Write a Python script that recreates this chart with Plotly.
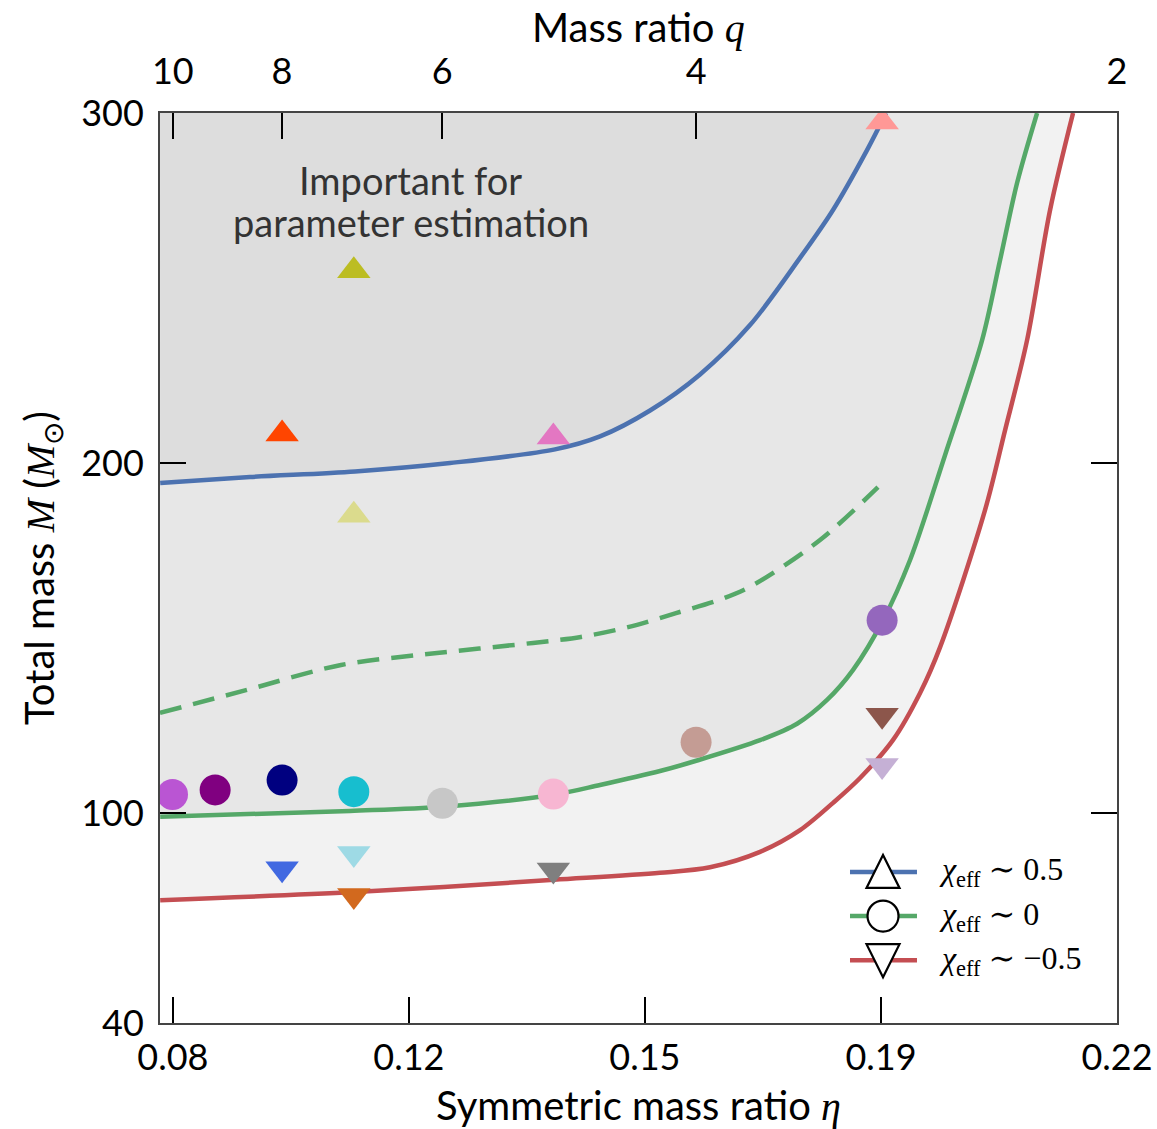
import plotly.graph_objects as go

# ---------------- data ----------------
# curves: symmetric mass ratio eta vs total mass M
blue_eta = [0.08078, 0.09406, 0.10958, 0.12363, 0.13915, 0.14580, 0.15319, 0.16058, 0.16797, 0.17536, 0.18024, 0.18527, 0.18808]
blue_M   = [194.3, 196.0, 197.6, 200.0, 203.9, 207.6, 215.0, 225.3, 239.4, 258.6, 272.3, 289.4, 300.0]

green_eta = [0.08078, 0.10884, 0.12259, 0.13900, 0.14580, 0.15467, 0.16014, 0.16946, 0.17493, 0.17936, 0.18321, 0.18764, 0.19163, 0.19681, 0.20228, 0.20494, 0.20745, 0.21041]
green_M   = [98.9, 100.6, 101.8, 105.2, 108.0, 112.0, 115.0, 120.8, 125.5, 132.3, 140.9, 155.1, 172.3, 202.3, 235.1, 258.0, 280.0, 300.0]

red_eta = [0.08078, 0.10958, 0.13900, 0.15467, 0.16206, 0.16946, 0.17537, 0.18025, 0.18424, 0.18912, 0.19311, 0.19607, 0.20272, 0.20568, 0.20893, 0.21233, 0.21573]
red_M   = [75.1, 77.4, 80.9, 82.9, 84.5, 88.9, 95.1, 102.9, 110.0, 120.9, 134.3, 147.4, 186.6, 209.4, 235.1, 272.3, 300.0]

dash_eta = [0.08075, 0.09346, 0.10751, 0.12170, 0.13589, 0.14298, 0.14993, 0.15703, 0.16413, 0.16841, 0.17832, 0.18689]
dash_M   = [128.6, 135.1, 142.3, 145.7, 148.6, 150.3, 153.1, 157.1, 161.4, 165.1, 178.0, 193.1]

# events
up_eta    = [0.1875, 0.1094, 0.0988, 0.1389, 0.1094]
up_M      = [297.4, 254.9, 208.3, 207.4, 185.1]
up_colors = ["#ff9896", "#bcbd22", "#ff4500", "#e377c2", "#dbdb8d"]

circ_eta    = [0.0826, 0.0889, 0.0988, 0.1094, 0.1225, 0.1389, 0.1600, 0.1875]
circ_M      = [105.3, 106.6, 109.4, 106.1, 102.8, 105.4, 120.2, 155.1]
circ_colors = ["#ba55d3", "#800080", "#000080", "#17becf", "#c7c7c7", "#f7b6d2", "#c49c94", "#9467bd"]

down_eta    = [0.0988, 0.1094, 0.1094, 0.1389, 0.1875, 0.1875]
down_M      = [84.1, 88.4, 76.4, 83.7, 127.9, 113.6]
down_colors = ["#4169e1", "#9edae5", "#d2691e", "#7f7f7f", "#8c564b", "#c5b0d5"]

# legend
legend_labels = ["<i>χ</i><sub>eff</sub> ∼ 0.5", "<i>χ</i><sub>eff</sub> ∼ 0", "<i>χ</i><sub>eff</sub> ∼ −0.5"]

# axes
q_ticks = [10, 8, 6, 4, 2]
eta_ticktext = ["0.08", "0.12", "0.15", "0.19", "0.22"]
M_ticks = [40, 100, 200, 300]
X_MIN, X_MAX = 0.08075, 2 / 9
Y_MIN, Y_MAX = 40, 300

BLUE, GREEN, RED = "#4c72b0", "#55a868", "#c44e52"
SANS = "Lato, sans-serif"
SERIF = "Liberation Serif, DejaVu Serif, serif"

def m(s):
    return "<span style='font-family:Liberation Serif'><i>%s</i></span>" % s

def eta_of_q(q):
    return q / (1 + q) ** 2

q_tickvals = [eta_of_q(q) for q in q_ticks]
e0, e1 = eta_of_q(10), eta_of_q(2)
eta_tickvals = [e0 + i * (e1 - e0) / 4 for i in range(5)]

fig = go.Figure()

def add_region(xs, ys, color, fillcolor):
    fig.add_trace(go.Scatter(x=[X_MIN, xs[-1]], y=[Y_MAX, Y_MAX], mode="lines",
                             line=dict(width=0), showlegend=False, hoverinfo="skip"))
    fig.add_trace(go.Scatter(x=xs, y=ys, mode="lines", fill="tonexty", fillcolor=fillcolor,
                             line=dict(color=color, width=4.5, shape="spline", smoothing=0.9),
                             showlegend=False, hoverinfo="skip"))

add_region(red_eta, red_M, RED, "#f2f2f2")
add_region(green_eta, green_M, GREEN, "#e7e7e7")
add_region(blue_eta, blue_M, BLUE, "#dddddd")

fig.add_trace(go.Scatter(x=dash_eta, y=dash_M, mode="lines",
                         line=dict(color=GREEN, width=4.5, dash="22px,12px", shape="spline", smoothing=0.9),
                         showlegend=False, hoverinfo="skip"))

fig.add_trace(go.Scatter(x=up_eta, y=up_M, mode="markers", showlegend=False,
                         marker=dict(symbol="triangle-up", size=29, color=up_colors, line=dict(width=0))))
fig.add_trace(go.Scatter(x=circ_eta, y=circ_M, mode="markers", showlegend=False,
                         marker=dict(symbol="circle", size=31, color=circ_colors, line=dict(width=0))))
fig.add_trace(go.Scatter(x=down_eta, y=down_M, mode="markers", showlegend=False,
                         marker=dict(symbol="triangle-down", size=29, color=down_colors, line=dict(width=0))))

# invisible trace to anchor secondary axes
fig.add_trace(go.Scatter(x=[None], y=[None], xaxis="x2", yaxis="y2", showlegend=False))

for txt, yv in [("Important for", 280.9), ("parameter estimation", 268.9)]:
    fig.add_annotation(x=0.1178, y=yv, xref="x", yref="y", text=txt,
                       showarrow=False, font=dict(family=SANS, size=38, color="#333333"))

# top axis title
fig.add_annotation(x=0.5, y=1.094, xref="paper", yref="paper", text="Mass ratio " + m("q"),
                   showarrow=False, xanchor="center", yanchor="middle",
                   font=dict(family=SANS, size=40, color="black"))

# custom legend (line + large open marker + label), placed in paper coordinates
LEG_X0, LEG_X1, LEG_XM, LEG_TX = 0.721, 0.791, 0.7555, 0.812
LEG_ROWS = [0.166, 0.1175, 0.069]
marker_paths = {
    "up": "M-16.5,-16 L16.5,-16 L0,17 Z",
    "down": "M-16.5,16 L16.5,16 L0,-17 Z",
}
for (kind, col), lab, ly in zip([("up", BLUE), ("circle", GREEN), ("down", RED)], legend_labels, LEG_ROWS):
    fig.add_shape(type="line", xref="paper", yref="paper", x0=LEG_X0, x1=LEG_X1, y0=ly, y1=ly,
                  line=dict(color=col, width=4.5), layer="above")
    if kind == "circle":
        fig.add_shape(type="circle", xref="paper", yref="paper", xsizemode="pixel", ysizemode="pixel",
                      xanchor=LEG_XM, yanchor=ly, x0=-15.5, x1=15.5, y0=-15.5, y1=15.5,
                      fillcolor="white", line=dict(color="black", width=2.2), layer="above")
    else:
        fig.add_shape(type="path", xref="paper", yref="paper", xsizemode="pixel", ysizemode="pixel",
                      xanchor=LEG_XM, yanchor=ly, path=marker_paths[kind],
                      fillcolor="white", line=dict(color="black", width=2.2), layer="above")
    fig.add_annotation(x=LEG_TX, y=ly, xref="paper", yref="paper", text=lab, showarrow=False,
                       xanchor="left", yanchor="middle", font=dict(family=SERIF, size=32, color="black"))

axis_common = dict(showgrid=False, zeroline=False, ticks="inside", ticklen=26, tickwidth=2,
                   tickcolor="black", showline=True, linecolor="#444444", linewidth=2,
                   automargin=False, ticklabeloverflow="allow",
                   tickfont=dict(family=SANS, size=36, color="black"))

fig.update_layout(
    width=1157, height=1129,
    margin=dict(l=160, r=40, t=113, b=106),
    paper_bgcolor="white", plot_bgcolor="white",
    showlegend=False,
    xaxis=dict(range=[X_MIN, X_MAX], tickvals=eta_tickvals, ticktext=eta_ticktext,
               ticklabelstandoff=2,
               title=dict(text="Symmetric mass ratio " + m("η"), font=dict(family=SANS, size=40, color="black"), standoff=18),
               **axis_common),
    xaxis2=dict(range=[X_MIN, X_MAX], overlaying="x", side="top", tickvals=q_tickvals,
                ticktext=[str(q) for q in q_ticks], ticklabelstandoff=13,
                **axis_common),
    yaxis=dict(range=[Y_MIN, Y_MAX], tickvals=M_ticks, ticktext=[str(v) for v in M_ticks],
               ticklabelstandoff=7,
               title=dict(text="Total mass " + m("M") + " (" + m("M") + "<sub>⊙</sub>)",
                          font=dict(family=SANS, size=40, color="black"), standoff=14),
               **axis_common),
    yaxis2=dict(range=[Y_MIN, Y_MAX], overlaying="y", side="right", tickvals=M_ticks,
                showticklabels=False, **axis_common),
)

fig.write_html("out.html")
